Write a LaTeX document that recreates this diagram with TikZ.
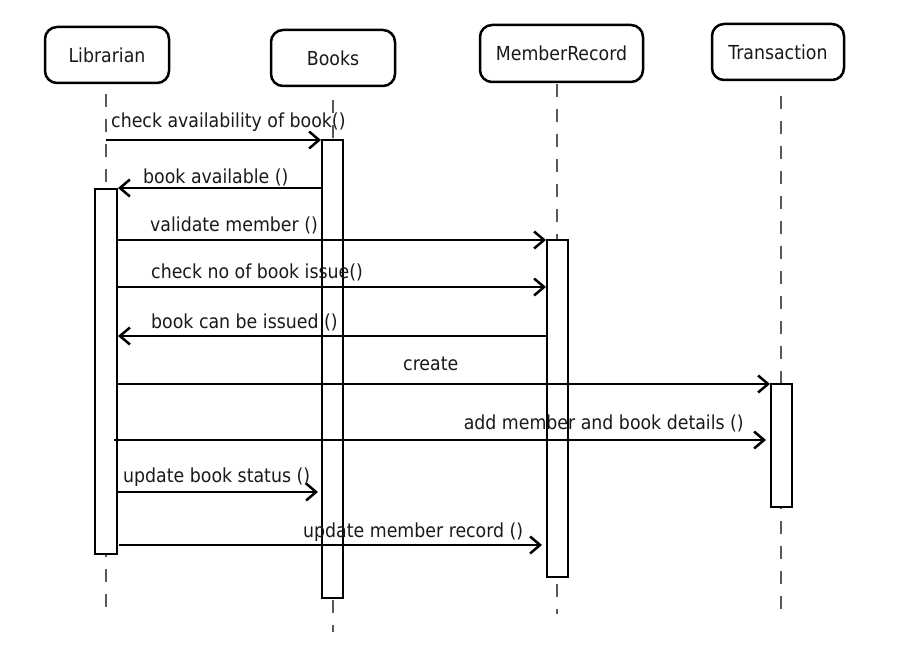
\documentclass[tikz,border=0pt]{standalone}
\usepackage{fontspec}
\setmainfont{DejaVu Sans Condensed}
\usetikzlibrary{arrows.meta}
\begin{document}
\begin{tikzpicture}[x=1pt,y=-1pt,
  every node/.style={font=\fontsize{19.3}{22}\selectfont, text=black!90},
  actor/.style={draw=black, line width=2.5pt, rounded corners=12pt, fill=white, inner sep=0pt},
  lifeline/.style={draw=black!65, line width=1.5pt, dash pattern=on 13pt off 12pt},
  activation/.style={draw=black, line width=2.5pt, fill=white},
  msg/.style={draw=black, line width=2.5pt, -{Straight Barb[length=10pt,width=17pt,line width=2.5pt]}},
  lbl/.style={anchor=west, inner sep=0pt}
]
\useasboundingbox (0,0) rectangle (907,647);

% actors
\node[actor, minimum width=124pt, minimum height=56pt] (lib) at (107,55) {Librarian};
\node[actor, minimum width=124pt, minimum height=56pt] (books) at (333,58) {Books};
\node[actor, minimum width=163pt, minimum height=57pt] (mem) at (561.5,53.5) {MemberRecord};
\node[actor, minimum width=132pt, minimum height=56pt] (trn) at (778,52) {Transaction};

% lifelines
\coordinate (libT) at (106,94);  \coordinate (libB) at (106,615);
\coordinate (bookT) at (333,100); \coordinate (bookB) at (333,632);
\coordinate (memT) at (557,84);  \coordinate (memB) at (557,614);
\coordinate (trnT) at (781,96);  \coordinate (trnB) at (781,612);
\draw[lifeline] (libT) -- (libB);
\draw[lifeline] (bookT) -- (bookB);
\draw[lifeline] (memT) -- (memB);
\draw[lifeline] (trnT) -- (trnB);

% activations
\draw[activation] (322,140) rectangle (343,598);
\draw[activation] (95,189) rectangle (117,554);
\draw[activation] (547,240) rectangle (568,577);
\draw[activation] (771,384) rectangle (792,507);

% message endpoints
\coordinate (m1a) at (106,140); \coordinate (m1b) at (321,140);
\coordinate (m2a) at (322,188); \coordinate (m2b) at (118,188);
\coordinate (m3a) at (117,240); \coordinate (m3b) at (546,240);
\coordinate (m4a) at (117,287); \coordinate (m4b) at (546,287);
\coordinate (m5a) at (547,336); \coordinate (m5b) at (118,336);
\coordinate (m6a) at (117,384); \coordinate (m6b) at (770,384);
\coordinate (m7a) at (114,440); \coordinate (m7b) at (766,440);
\coordinate (m8a) at (117,492); \coordinate (m8b) at (318,492);
\coordinate (m9a) at (119,545); \coordinate (m9b) at (542,545);

\draw[msg] (m1a) -- (m1b);
\draw[msg] (m2a) -- (m2b);
\draw[msg] (m3a) -- (m3b);
\draw[msg] (m4a) -- (m4b);
\draw[msg] (m5a) -- (m5b);
\draw[msg] (m6a) -- (m6b);
\draw[msg] (m7a) -- (m7b);
\draw[msg] (m8a) -- (m8b);
\draw[msg] (m9a) -- (m9b);

% labels
\node[lbl] (l1) at (111,122) {check availability of book()};
\node[lbl] (l2) at (143,177) {book available ()};
\node[lbl] (l3) at (150,225) {validate member ()};
\node[lbl] (l4) at (151,272) {check no of book issue()};
\node[lbl] (l5) at (151,322) {book can be issued ()};
\node[lbl] (l6) at (403,364) {create};
\node[lbl, anchor=east] (l7) at (744,423) {add member and book details ()};
\node[lbl] (l8) at (123,477) {update book status ()};
\node[lbl] (l9) at (303,532) {update member record ()};
\end{tikzpicture}
\end{document}
